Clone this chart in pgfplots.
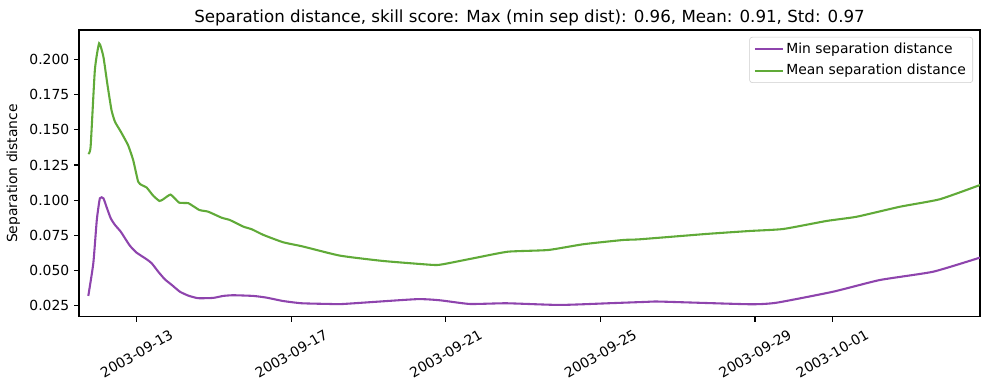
\documentclass[border=0pt]{standalone}
\usepackage{pgfplots}
\pgfplotsset{compat=1.18}
\usepackage{fontspec}
\setmainfont{DejaVu Sans}
\definecolor{cmin}{RGB}{142,68,173}
\definecolor{cmean}{RGB}{96,170,56}
\begin{document}
\begin{tikzpicture}
\useasboundingbox (-56.9pt,-52.6pt) rectangle (655.2pt,228.2pt);
\begin{axis}[
  scale only axis, width=648.7pt, height=206.6pt,
  at={(0,0)}, anchor=south west,
  xmin=-1.49, xmax=21.82, ymin=0.0172, ymax=0.2208,
  axis line style={line width=0.8pt},
  tick style={line width=0.8pt, black},
  major tick length=3.5pt, tick align=outside,
  xtick pos=bottom, ytick pos=left,
  xtick={0,4,8,12,16,18},
  xticklabels={2003-09-13,2003-09-17,2003-09-21,2003-09-25,2003-09-29,2003-10-01},
  xticklabel style={yshift=-23pt, rotate=30, anchor=center, font=\fontsize{10}{12}\selectfont},
  ytick={0.025,0.05,0.075,0.1,0.125,0.15,0.175,0.2},
  yticklabel style={font=\fontsize{10}{12}\selectfont, /pgf/number format/fixed, /pgf/number format/fixed zerofill, /pgf/number format/precision=3},
  /pgf/number format/assume math mode=true,
  scaled y ticks=false,
  ylabel={Separation distance},
  ylabel style={font=\fontsize{10}{12}\selectfont},
  title={Separation distance, skill score: Max (min sep dist): 0.96, Mean: 0.91, Std: 0.97},
  title style={font=\fontsize{12}{14}\selectfont, yshift=-6.5pt},
  legend style={at={(axis cs:21.82,0.2208)}, anchor=north east, xshift=-5pt, yshift=-5pt,
    draw=black!20, rounded corners=2pt, font=\fontsize{10}{12}\selectfont,
    inner xsep=3pt, inner ysep=2pt, row sep=2.5pt, cells={anchor=west}},
  legend cell align=left,
  legend image code/.code={\draw[#1] (0pt,0pt) -- (20pt,0pt);},
]
\addplot[cmin, line width=1.5pt, smooth, tension=0.3] coordinates {
(-1.25,0.0321) (-1.12,0.0553) (-1.03,0.0860) (-0.95,0.1014) (-0.86,0.1014)
(-0.78,0.0954) (-0.67,0.0872) (-0.56,0.0825) (-0.41,0.0777) (-0.30,0.0730)
(-0.17,0.0676) (0.0,0.0628) (0.26,0.0581) (0.39,0.0553) (0.56,0.0493)
(0.73,0.0439) (0.91,0.0399) (1.12,0.0351) (1.34,0.0323) (1.59,0.0305)
(1.98,0.0307) (2.24,0.0321) (2.50,0.0326) (3.02,0.0321) (3.36,0.0309)
(3.79,0.0285) (4.27,0.0269) (5.0,0.0264) (5.35,0.0264) (7.24,0.0298)
(7.85,0.0290) (8.62,0.0264) (9.57,0.0269) (10.95,0.0257) (12.3,0.0270)
(13.2,0.0279) (13.54,0.0281) (15.87,0.0262) (16.56,0.0273) (18.02,0.0351)
(19.23,0.0434) (20.61,0.0493) (21.82,0.0593)
};
\addlegendentry{Min separation distance}
\addplot[cmean, line width=1.5pt, smooth, tension=0.3] coordinates {
(-1.25,0.1328) (-1.19,0.138) (-1.08,0.1924) (-0.97,0.2113) (-0.86,0.2019)
(-0.76,0.183) (-0.65,0.164) (-0.56,0.1557) (-0.41,0.1487) (-0.22,0.139)
(-0.09,0.1286) (0.04,0.1132) (0.13,0.1108) (0.26,0.109) (0.43,0.1032)
(0.59,0.0995) (0.69,0.1007) (0.88,0.104) (1.10,0.0983) (1.34,0.0979)
(1.62,0.0931) (1.85,0.0919) (2.20,0.0876) (2.41,0.0860) (2.76,0.0813)
(2.98,0.0794) (3.28,0.0754) (3.79,0.0702) (4.30,0.0672) (5.26,0.0607)
(6.38,0.0569) (7.67,0.0541) (7.93,0.0546) (8.80,0.0593) (9.61,0.0635)
(10.65,0.0647) (11.56,0.0688) (12.59,0.0718) (13.02,0.0723) (14.75,0.0761)
(15.87,0.0782) (16.73,0.0796) (17.85,0.0853) (18.63,0.0883) (19.75,0.0954)
(20.78,0.1007) (21.82,0.1108)
};
\addlegendentry{Mean separation distance}
\end{axis}
\end{tikzpicture}
\end{document}
